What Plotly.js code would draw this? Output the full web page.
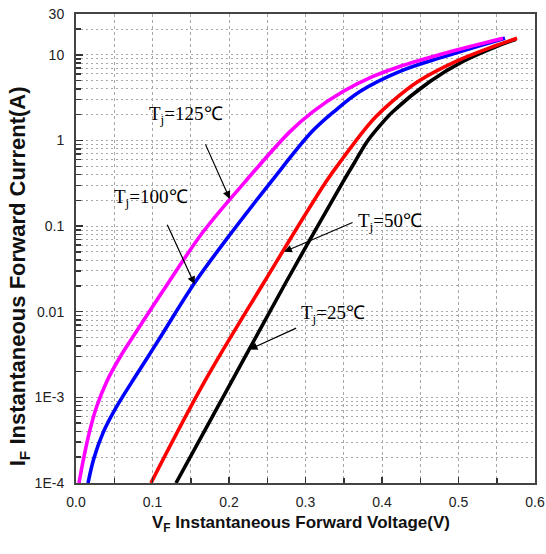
<!DOCTYPE html>
<html>
<head>
<meta charset="utf-8">
<script src="https://cdn.plot.ly/plotly-3.0.1.min.js"></script>
<style>html,body{margin:0;padding:0;background:#fff;}#chart{width:546px;height:554px;}</style>
</head>
<body>
<div id="chart"></div>
<script>
// Forward voltage (V) and current (A)
const v125 = [0.0039, 0.0101, 0.0173, 0.0265, 0.0395, 0.0572, 0.0781, 0.1212, 0.1660, 0.2209, 0.2797, 0.3098, 0.3490, 0.3882, 0.4196, 0.4915, 0.5582];
const i125 = [1.0e-4, 1.96e-4, 3.85e-4, 7.57e-4, 1.486e-3, 2.92e-3, 5.73e-3, 0.0221, 0.0853, 0.329, 1.27, 2.176, 3.73, 5.596, 7.13, 11.0, 15.6];

const v100 = [0.0157, 0.0235, 0.0353, 0.0523, 0.0725, 0.0935, 0.1141, 0.1556, 0.2039, 0.2549, 0.3085, 0.3373, 0.3712, 0.4235, 0.4824, 0.5608];
const i100 = [1.0e-4, 1.96e-4, 3.85e-4, 7.57e-4, 1.486e-3, 2.92e-3, 5.73e-3, 0.0221, 0.0853, 0.329, 1.27, 2.176, 3.73, 6.41, 9.6, 15.6];

const v50 = [0.0980, 0.1673, 0.2458, 0.3268, 0.3503, 0.3752, 0.3922, 0.4131, 0.4471, 0.4967, 0.5464, 0.5765];
const i50 = [1.0e-4, 1.486e-3, 0.0221, 0.329, 0.6457, 1.27, 1.901, 2.85, 4.89, 8.39, 12.6, 15.6];

const v25 = [0.1307, 0.2026, 0.2745, 0.3490, 0.3647, 0.3804, 0.3961, 0.4144, 0.4627, 0.5059, 0.5503, 0.5752];
const i25 = [1.0e-4, 1.486e-3, 0.0221, 0.329, 0.5643, 0.968, 1.451, 2.18, 4.89, 8.39, 12.6, 15.2];

const yTickVals = [1e-4, 1e-3, 0.01, 0.1, 1, 10, 30];
const yTickText = ['1E-4', '1E-3', '0.01', '0.1', '1', '10', '30'];
const labels = ['T<sub>j</sub>=125℃', 'T<sub>j</sub>=100℃', 'T<sub>j</sub>=50℃', 'T<sub>j</sub>=25℃'];
const xTitle = 'V<sub>F</sub> Instantaneous Forward Voltage(V)';
const yTitle = 'I<sub>F</sub> Instantaneous Forward Current(A)';

const yMinor = [];
[1e-4, 1e-3, 1e-2, 1e-1, 1, 10].forEach(d => {
  for (let k = 2; k <= 9; k++) { if (d * k < 30) yMinor.push(d * k); }
});

function tr(x, y, color) {
  return {x: x, y: y, type: 'scatter', mode: 'lines',
    line: {color: color, width: 3.6, shape: 'spline', smoothing: 1},
    hoverinfo: 'skip', showlegend: false};
}

const data = [
  tr(v25, i25, '#000000'),
  tr(v50, i50, '#ff0000'),
  tr(v100, i100, '#0000ff'),
  tr(v125, i125, '#ff00ff')
];

const txtFont = {family: 'Liberation Serif, Times New Roman, serif', size: 19, color: '#000'};
function lab(t, x, y) {
  return {text: t, xref: 'paper', yref: 'paper', x: x, y: y, xanchor: 'left', yanchor: 'middle',
    showarrow: false, font: txtFont};
}
function arr(x, y, ax, ay) {
  return {text: '', xref: 'x', yref: 'y', x: x, y: y, ax: ax, ay: ay,
    showarrow: true, arrowhead: 2, arrowsize: 1.3, arrowwidth: 1.2, arrowcolor: '#000'};
}

const layout = {
  width: 546, height: 554,
  margin: {l: 76, r: 11, t: 14, b: 71},
  paper_bgcolor: '#fff', plot_bgcolor: '#fff',
  font: {family: 'Liberation Sans, Arial, sans-serif', size: 14, color: '#222'},
  xaxis: {
    range: [0, 0.6], dtick: 0.1, tickformat: '.1f',
    ticks: 'inside', ticklen: 6, tickwidth: 1.5, tickcolor: '#333',
    showline: true, linecolor: '#444', linewidth: 2, mirror: true,
    showgrid: true, gridcolor: '#a8a8a8', gridwidth: 1, griddash: '3px,3px',
    minor: {dtick: 0.05, ticks: 'inside', ticklen: 5, tickcolor: '#333', showgrid: true,
      gridcolor: '#a8a8a8', gridwidth: 1, griddash: '3px,3px'},
    zeroline: false, ticklabelstandoff: 5
  },
  yaxis: {
    type: 'log', range: [-4, Math.log10(30)],
    tickmode: 'array', tickvals: yTickVals, ticktext: yTickText,
    ticks: 'inside', ticklen: 7, tickwidth: 1.5, tickcolor: '#333',
    showline: true, linecolor: '#444', linewidth: 2, mirror: true,
    showgrid: true, gridcolor: '#a8a8a8', gridwidth: 1, griddash: '2px,3px',
    minor: {tickvals: yMinor, ticks: 'inside', ticklen: 5, tickcolor: '#333', showgrid: true,
      gridcolor: '#a8a8a8', gridwidth: 1, griddash: '2px,3px'},
    zeroline: false, ticklabelstandoff: 7
  },
  annotations: [
    lab(labels[0], 0.155, 0.785),
    lab(labels[1], 0.078, 0.608),
    lab(labels[2], 0.610, 0.556),
    lab(labels[3], 0.486, 0.360),
    arr(0.201, -0.682, -25, -56),
    arr(0.155, -1.679, -28, -61),
    arr(0.272, -1.30, 70, -30),
    arr(0.227, -2.44, 48, -22),
    {text: yTitle, xref: 'paper', yref: 'paper',
      x: -0.124, y: 0.441, textangle: -90, showarrow: false, xanchor: 'center', yanchor: 'middle',
      font: {family: 'Liberation Sans, Arial, sans-serif', size: 22, color: '#111', weight: 'bold'}},
    {text: xTitle, xref: 'paper', yref: 'paper',
      x: 0.49, y: -0.088, showarrow: false, xanchor: 'center', yanchor: 'middle',
      font: {family: 'Liberation Sans, Arial, sans-serif', size: 17, color: '#111', weight: 'bold'}}
  ]
};

Plotly.newPlot('chart', data, layout, {staticPlot: true, displayModeBar: false});
</script>
</body>
</html>
